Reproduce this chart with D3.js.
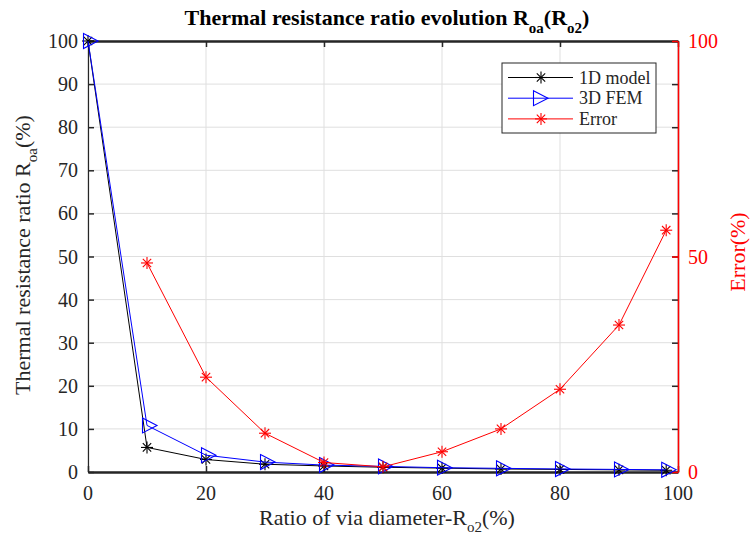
<!DOCTYPE html>
<html><head><meta charset="utf-8">
<script src="https://cdn.jsdelivr.net/npm/d3@7"></script>
<style>body{margin:0;background:#fff}svg{display:block}text{font-family:"Liberation Serif","Times New Roman",serif}</style>
</head><body><svg id="c" width="750" height="536"></svg>
<script>
const xValues = [0,10,20,30,40,50,60,70,80,90,98];
const model1D = [100,5.7,2.9,1.8,1.4,1.1,0.9,0.7,0.6,0.5,0.4];
const fem3D = [100,10.8,3.9,2.3,1.6,1.3,1.0,0.85,0.7,0.6,0.5];
const errorPct = [null,48.5,22,9.0,2.2,1.2,4.7,10.0,19.2,34.1,56.1];
const xTicks = [0,20,40,60,80,100];
const yTicks = [0,10,20,30,40,50,60,70,80,90,100];
const y2Ticks = [0,50,100];

const svg = d3.select("#c");
const L=88,R=678,T=41,B=472;
const x = d3.scaleLinear().domain([0,100]).range([L,R]);
const y = d3.scaleLinear().domain([0,100]).range([B,T]);
const y2 = d3.scaleLinear().domain([0,100]).range([B,T]);
const dark="#262626";

// grid
const g = svg.append("g");
g.selectAll(".gx").data(xTicks).enter().append("line")
 .attr("x1",d=>x(d)).attr("x2",d=>x(d)).attr("y1",T).attr("y2",B)
 .attr("stroke","#dfdfdf").attr("stroke-width",1);
g.selectAll(".gy").data(yTicks).enter().append("line")
 .attr("x1",L).attr("x2",R).attr("y1",d=>y(d)).attr("y2",d=>y(d))
 .attr("stroke","#dfdfdf").attr("stroke-width",1);

// axes (lines and ticks via d3 axes; labels drawn as serif text below)
const ax = svg.append("g").attr("transform",`translate(0,${B})`)
 .call(d3.axisBottom(x).tickValues(xTicks).tickSize(-6).tickFormat("").tickSizeOuter(0));
const axT = svg.append("g").attr("transform",`translate(0,${T})`)
 .call(d3.axisTop(x).tickValues(xTicks).tickSize(-6).tickFormat("").tickSizeOuter(0));
const ay = svg.append("g").attr("transform",`translate(${L},0)`)
 .call(d3.axisLeft(y).tickValues(yTicks).tickSize(-6).tickFormat("").tickSizeOuter(0));
const ayR = svg.append("g").attr("transform",`translate(${R},0)`)
 .call(d3.axisRight(y).tickValues(yTicks).tickSize(-6).tickFormat("").tickSizeOuter(0));
const ay2 = svg.append("g").attr("transform",`translate(${R},0)`)
 .call(d3.axisRight(y2).tickValues(y2Ticks).tickSize(-6).tickFormat("").tickSizeOuter(0));
[ax,axT,ay,ayR].forEach(a=>{
  a.selectAll("path").attr("stroke",dark).attr("stroke-width",1.2);
  a.selectAll("line").attr("stroke",dark).attr("stroke-width",1.5);
});
ax.select("path").attr("stroke-width",2.5);
axT.select("path").attr("stroke-width",2.5);
ay2.selectAll("path").attr("stroke","#ff0000").attr("stroke-width",1.5);
ay2.selectAll("line").attr("stroke","#ff0000").attr("stroke-width",1.5);

// tick labels
svg.append("g").selectAll("text").data(xTicks).enter().append("text")
 .attr("x",d=>x(d)).attr("y",B+28).attr("text-anchor","middle")
 .style("font-size","20px").attr("fill",dark).text(d=>d);
svg.append("g").selectAll("text").data(yTicks).enter().append("text")
 .attr("x",L-10).attr("y",d=>y(d)+7).attr("text-anchor","end")
 .style("font-size","20px").attr("fill",dark).text(d=>d);
svg.append("g").selectAll("text").data(y2Ticks).enter().append("text")
 .attr("x",R+10).attr("y",d=>y2(d)+7).attr("text-anchor","start")
 .style("font-size","20px").attr("fill","#ff0000").text(d=>d);

// series
const line = (ys,sc)=>d3.line().defined((d,i)=>ys[i]!=null).x((d,i)=>x(xValues[i])).y((d,i)=>sc(ys[i]));
function star(sel,color,s){
  sel.each(function(d){
    const gg=d3.select(this);
    const pts=[[-s,0,s,0],[0,-s,0,s],[-s*0.7,-s*0.7,s*0.7,s*0.7],[-s*0.7,s*0.7,s*0.7,-s*0.7]];
    pts.forEach(p=>gg.append("line").attr("x1",p[0]).attr("y1",p[1]).attr("x2",p[2]).attr("y2",p[3]).attr("stroke",color).attr("stroke-width",1.1));
  });
}
const tri = "M-4.5,-7.5L10,0L-4.5,7.5Z";
// 1D
svg.append("path").datum(xValues).attr("d",line(model1D,y)).attr("fill","none").attr("stroke","#000").attr("stroke-width",1);
svg.append("g").selectAll("g").data(xValues).enter().append("g")
 .attr("transform",(d,i)=>`translate(${x(d)},${y(model1D[i])})`).call(star,"#000",6);
// 3D FEM
svg.append("path").datum(xValues).attr("d",line(fem3D,y)).attr("fill","none").attr("stroke","#0000ff").attr("stroke-width",1);
svg.append("g").selectAll("path").data(xValues).enter().append("path")
 .attr("transform",(d,i)=>`translate(${x(d)},${y(fem3D[i])})`)
 .attr("d",tri).attr("fill","none").attr("stroke","#0000ff").attr("stroke-width",1.1);
// Error
svg.append("path").datum(xValues).attr("d",line(errorPct,y2)).attr("fill","none").attr("stroke","#ff0000").attr("stroke-width",1);
svg.append("g").selectAll("g").data(xValues.filter((d,i)=>errorPct[i]!=null)).enter().append("g")
 .attr("transform",d=>`translate(${x(d)},${y2(errorPct[xValues.indexOf(d)])})`).call(star,"#ff0000",6);

// title
const t = svg.append("text").attr("x",387).attr("y",25).attr("text-anchor","middle")
 .style("font-size","22px").style("font-weight","bold").attr("fill","#000");
t.append("tspan").text("Thermal resistance ratio evolution R");
t.append("tspan").attr("dy",8).style("font-size","15px").text("oa");
t.append("tspan").attr("dy",-8).text("(R");
t.append("tspan").attr("dy",8).style("font-size","15px").text("o2");
t.append("tspan").attr("dy",-8).text(")");

// x label
const xl = svg.append("text").attr("x",387).attr("y",525).attr("text-anchor","middle")
 .style("font-size","22px").attr("fill",dark);
xl.append("tspan").text("Ratio of via diameter-R");
xl.append("tspan").attr("dy",7).style("font-size","15px").text("o2");
xl.append("tspan").attr("dy",-7).text("(%)");

// y label
const yl = svg.append("text").attr("transform","translate(30,255) rotate(-90)").attr("text-anchor","middle")
 .style("font-size","22px").attr("fill",dark);
yl.append("tspan").text("Thermal resistance ratio R");
yl.append("tspan").attr("dy",7).style("font-size","15px").text("oa");
yl.append("tspan").attr("dy",-7).text("(%)");

// y2 label
svg.append("text").attr("transform","translate(745,252) rotate(-90)").attr("text-anchor","middle")
 .style("font-size","22px").attr("fill","#ff0000").text("Error(%)");

// legend
const lg = svg.append("g");
lg.append("rect").attr("x",502).attr("y",63).attr("width",154).attr("height",70)
 .attr("fill","#fff").attr("stroke",dark).attr("stroke-width",1);
const legItems=[["1D model","#000","star"],["3D FEM","#0000ff","tri"],["Error","#ff0000","star"]];
legItems.forEach((it,i)=>{
  const yy=77.5+i*20.7;
  lg.append("line").attr("x1",508).attr("x2",573).attr("y1",yy).attr("y2",yy).attr("stroke",it[1]).attr("stroke-width",1);
  if(it[2]==="star"){ lg.append("g").attr("transform",`translate(541,${yy})`).datum(0).call(star,it[1],6); }
  else lg.append("path").attr("transform",`translate(538,${yy})`).attr("d",tri).attr("fill","none").attr("stroke",it[1]).attr("stroke-width",1.1);
  lg.append("text").attr("x",579).attr("y",yy+6).style("font-size","18px").attr("fill",dark).text(it[0]);
});
</script></body></html>
